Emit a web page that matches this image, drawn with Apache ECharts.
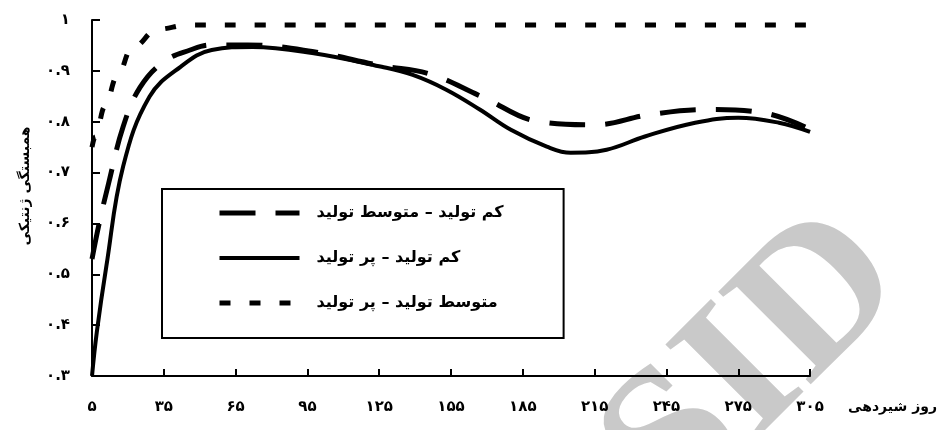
<!DOCTYPE html>
<html>
<head>
<meta charset="utf-8">
<script src="https://cdn.jsdelivr.net/npm/echarts@6/dist/echarts.min.js"></script>
<style>
html,body{margin:0;padding:0;background:#fff;}
#chart{width:940px;height:430px;}
</style>
</head>
<body>
<div id="chart"></div>
<script>
// روز شیردهی (محور افقی)
var xTicks = [5, 35, 65, 95, 125, 155, 185, 215, 245, 275, 305];

// کم تولید – متوسط تولید
var lowMidX = [5, 8, 12, 18, 25, 35, 46, 55, 70, 97, 126, 146, 168, 192, 215, 238, 262, 285, 305];
var lowMidY = [0.53, 0.6, 0.68, 0.79, 0.867, 0.918, 0.941, 0.951, 0.951, 0.938, 0.91, 0.894, 0.849, 0.8, 0.794, 0.814, 0.824, 0.818, 0.785];

// کم تولید – پر تولید
var lowHighX = [5, 7, 11, 18, 29, 42, 55, 72, 97, 126, 139, 153, 167, 180, 195, 205, 220, 236, 257, 275, 292, 305];
var lowHighY = [0.3, 0.386, 0.516, 0.712, 0.849, 0.908, 0.941, 0.947, 0.935, 0.908, 0.892, 0.863, 0.824, 0.784, 0.751, 0.739, 0.745, 0.771, 0.798, 0.808, 0.798, 0.78];

// متوسط تولید – پر تولید
var midHighX = [5, 6.25, 10.4, 15.4, 21.7, 32.5, 45, 60, 305];
var midHighY = [0.75, 0.77, 0.83, 0.888, 0.945, 0.982, 0.99, 0.99, 0.99];

var names = ['کم تولید – متوسط تولید', 'کم تولید – پر تولید', 'متوسط تولید – پر تولید'];
var lineTypes = [[36, 20], 'solid', [11, 19]];
var lineWidths = [5, 4, 5];

function pair(xs, ys){
    var out = [];
    for(var i=0;i<xs.length;i++){
        out.push([xs[i], ys[i]]);
    }
    return out;
}
function fa(s){
    var d = '۰۱۲۳۴۵۶۷۸۹';
    return String(s).replace(/[0-9]/g, function(c){ return d[+c]; });
}

var legendData = names.map(function(n, i){
    return {name: n, lineStyle: {width: lineWidths[i], type: lineTypes[i], color: '#000'}};
});

var font = 'DejaVu Sans';
var chart = echarts.init(document.getElementById('chart'));
chart.setOption({
    backgroundColor: '#fff',
    animation: false,
    graphic: [{
        type: 'text',
        x: 756,
        y: 366,
        z: -10,
        rotation: Math.PI / 4,
        style: {
            text: 'SID',
            font: 'bold 200px "Liberation Serif"',
            fill: '#c9c9c9',
            align: 'center',
            verticalAlign: 'middle'
        }
    }],
    grid: {
        left: 92,
        right: 128,
        top: 20,
        bottom: 54
    },
    legend: {
        orient: 'vertical',
        left: 162,
        top: 189,
        data: legendData,
        itemWidth: 80,
        itemHeight: 14,
        itemGap: 29,
        padding: [16, 60, 27, 55],
        borderColor: '#000',
        borderWidth: 2,
        itemStyle: {opacity: 0},
        textStyle: {
            fontFamily: font,
            fontWeight: 'bold',
            fontSize: 16,
            color: '#000',
            padding: [0, 0, 0, 12]
        }
    },
    xAxis: {
        type: 'value',
        z: 5,
        min: 5,
        max: 305,
        interval: 30,
        name: 'روز شیردهی',
        nameLocation: 'end',
        nameGap: 38,
        nameTextStyle: {
            fontFamily: font,
            fontWeight: 'bold',
            fontSize: 14,
            color: '#000',
            align: 'left',
            verticalAlign: 'top',
            padding: [24, 0, 0, 0]
        },
        splitLine: {show: false},
        axisLine: {lineStyle: {color: '#000', width: 2}},
        axisTick: {inside: true, length: 7, lineStyle: {color: '#000', width: 2}},
        axisLabel: {
            margin: 24,
            fontFamily: font,
            fontWeight: 'bold',
            fontSize: 15,
            color: '#000',
            formatter: function(v){ return fa(v); }
        }
    },
    yAxis: {
        type: 'value',
        z: 5,
        min: 0.3,
        max: 1,
        interval: 0.1,
        name: 'همبستگی ژنتیکی',
        nameLocation: 'middle',
        nameRotate: 90,
        nameGap: 60,
        nameTextStyle: {
            fontFamily: font,
            fontWeight: 'bold',
            fontSize: 14,
            color: '#000',
            padding: [0, 0, 0, 24]
        },
        splitLine: {show: false},
        axisLine: {show: true, lineStyle: {color: '#000', width: 2}},
        axisTick: {show: true, inside: true, length: 8, lineStyle: {color: '#000', width: 2}},
        axisLabel: {
            margin: 22,
            fontFamily: font,
            fontWeight: 'bold',
            fontSize: 15,
            color: '#000',
            formatter: function(v){
                if(Math.abs(v - 1) < 1e-6) return fa(1);
                return fa(v.toFixed(1));
            }
        }
    },
    series: [{
        name: names[0],
        type: 'line',
        smooth: 0.4,
        symbol: 'none',
        data: pair(lowMidX, lowMidY),
        lineStyle: {color: '#000', width: lineWidths[0], type: lineTypes[0]},
        itemStyle: {color: '#000'}
    }, {
        name: names[1],
        type: 'line',
        smooth: 0.4,
        symbol: 'none',
        data: pair(lowHighX, lowHighY),
        lineStyle: {color: '#000', width: lineWidths[1], type: lineTypes[1]},
        itemStyle: {color: '#000'}
    }, {
        name: names[2],
        type: 'line',
        smooth: 0.4,
        smoothMonotone: 'x',
        symbol: 'none',
        data: pair(midHighX, midHighY),
        lineStyle: {color: '#000', width: lineWidths[2], type: lineTypes[2]},
        itemStyle: {color: '#000'}
    }]
});
</script>
</body>
</html>
